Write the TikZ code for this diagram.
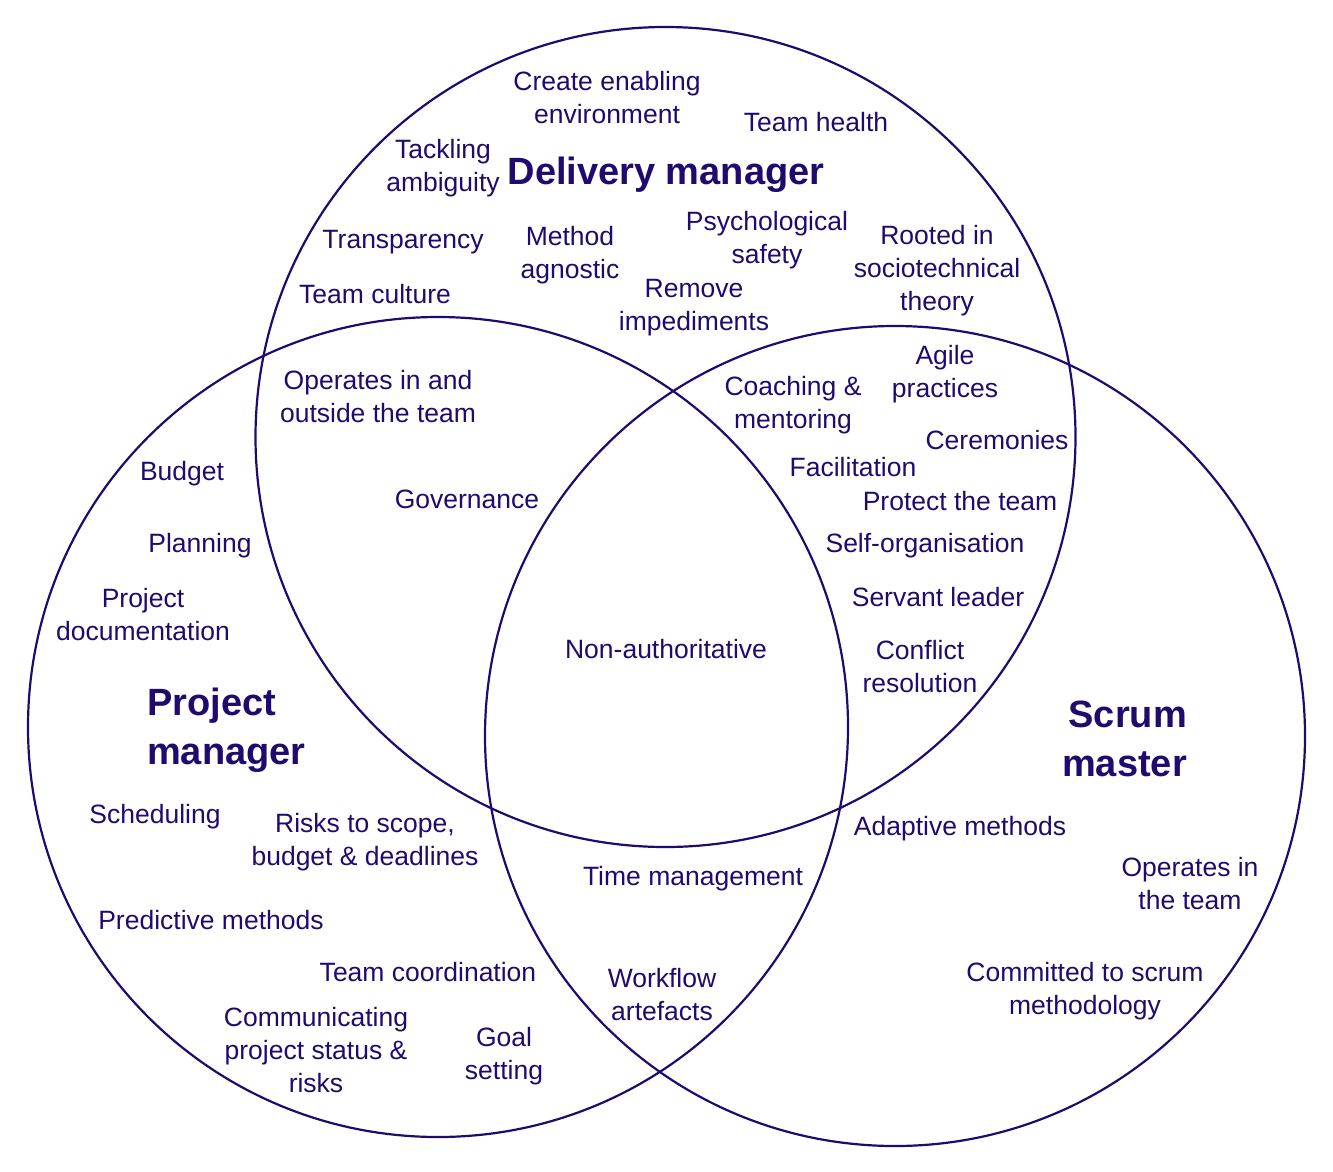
\documentclass[tikz,border=0pt]{standalone}
\usepackage{fontspec}
\setmainfont{Liberation Sans}
\definecolor{ink}{RGB}{32,10,110}
\tikzset{item/.style={text=ink,align=center,inner sep=0pt,font=\fontsize{26.5}{33}\selectfont},
  role/.style={text=ink,inner sep=0pt,font=\bfseries\fontsize{38}{49}\selectfont},
  ring/.style={draw=ink,line width=2.2pt}}

\begin{document}
\begin{tikzpicture}[x=1pt,y=-1pt]
\useasboundingbox (0,0) rectangle (1333,1171);
\coordinate (DM) at (665.5,437);
\coordinate (PM) at (438,727);
\coordinate (SM) at (895,736);
\draw[ring] (DM) circle (410);
\draw[ring] (PM) circle (410);
\draw[ring] (SM) circle (410);
\node[role] (dmTitle) at (666,175) {Delivery manager};
\node[role,align=left,anchor=west] (pmTitle) at (147,730.5) {Project\\manager};
\node[role,align=right,anchor=east] (smTitle) at (1187,739) {Scrum\\master};
\node[item] (create) at (607,98) {Create enabling\\environment};
\node[item] (health) at (816,122) {Team health};
\node[item] (ambig) at (443,168) {Tackling\\ambiguity};
\node[item] (transp) at (403,242) {Transparency};
\node[item] (method) at (570,255) {Method\\agnostic};
\node[item] (psych) at (767,240.5) {Psychological\\safety};
\node[item] (rooted) at (937,271) {Rooted in\\sociotechnical\\theory};
\node[item] (culture) at (375,294) {Team culture};
\node[item] (imped) at (694,308) {Remove\\impediments};
\node[item] (outside) at (378,397) {Operates in and\\outside the team};
\node[item] (gov) at (467,499) {Governance};
\node[item] (agile) at (945,374.5) {Agile\\practices};
\node[item] (coach) at (793,405.5) {Coaching \&\\mentoring};
\node[item] (cerem) at (997,440) {Ceremonies};
\node[item] (facil) at (853,467) {Facilitation};
\node[item] (protect) at (960,501) {Protect the team};
\node[item] (selforg) at (925,546) {Self-organisation};
\node[item] (servant) at (938,597) {Servant leader};
\node[item] (conflict) at (920,667) {Conflict\\resolution};
\node[item] (nonauth) at (666,649) {Non-authoritative};
\node[item] (budget) at (182,474) {Budget};
\node[item] (plan) at (200,546) {Planning};
\node[item] (docs) at (143,615) {Project\\documentation};
\node[item] (sched) at (155,817) {Scheduling};
\node[item] (risks) at (365,842.5) {Risks to scope,\\budget \& deadlines};
\node[item] (predict) at (211,920) {Predictive methods};
\node[item] (coord) at (428,972) {Team coordination};
\node[item] (comms) at (316,1050) {Communicating\\project status \&\\risks};
\node[item] (goal) at (504,1056.5) {Goal\\setting};
\node[item] (time) at (693,879) {Time management};
\node[item] (flow) at (662,995) {Workflow\\artefacts};
\node[item] (adapt) at (960,829) {Adaptive methods};
\node[item] (inteam) at (1190,884) {Operates in\\the team};
\node[item] (commit) at (1085,991) {Committed to scrum\\methodology};
\end{tikzpicture}
\end{document}
